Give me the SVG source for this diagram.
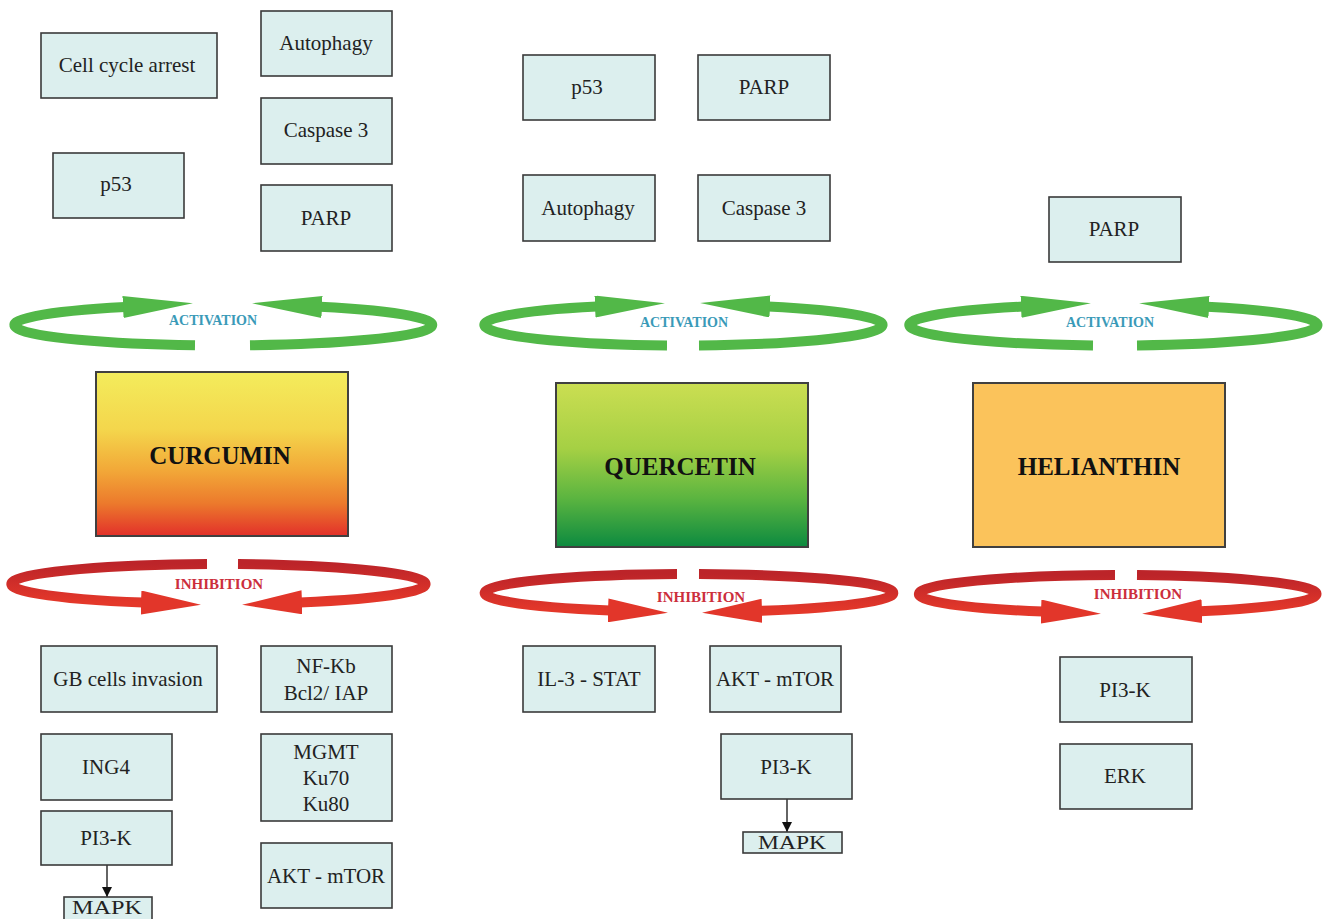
<svg xmlns="http://www.w3.org/2000/svg" width="1329" height="919" viewBox="0 0 1329 919">
<style>
.box{fill:#dcefee;stroke:#3a3a3a;stroke-width:1.6}
.t{font-family:"Liberation Serif","Times New Roman",serif;font-size:21px;fill:#222;text-anchor:middle}
.sm{font-family:"Liberation Serif","Times New Roman",serif;font-size:19px;fill:#222;text-anchor:middle}
.big{font-family:"Liberation Serif","Times New Roman",serif;font-size:25px;font-weight:bold;fill:#111;text-anchor:middle}
.main{stroke:#404040;stroke-width:2}
.act{fill:none;stroke:#52b848;stroke-width:10}
.inh{fill:none;stroke:url(#redGrad);stroke-width:10}
.actT{font-family:"Liberation Serif","Times New Roman",serif;font-size:14px;font-weight:bold;fill:#3a9ab8;text-anchor:middle}
.inhT{font-family:"Liberation Serif","Times New Roman",serif;font-size:15px;font-weight:bold;fill:#cc2e3c;text-anchor:middle}
.lnk{stroke:#111;stroke-width:1.3;fill:none}
</style>
<defs>
<linearGradient id="curG" x1="0" y1="0" x2="0" y2="1">
<stop offset="0" stop-color="#f3ec5c"/>
<stop offset="0.35" stop-color="#f4d64c"/>
<stop offset="0.6" stop-color="#f2a838"/>
<stop offset="0.8" stop-color="#ec7a2c"/>
<stop offset="1" stop-color="#e2302a"/>
</linearGradient>
<linearGradient id="queG" x1="0" y1="0" x2="0" y2="1">
<stop offset="0" stop-color="#cbde52"/>
<stop offset="0.4" stop-color="#a5d044"/>
<stop offset="0.7" stop-color="#5cb540"/>
<stop offset="1" stop-color="#0c8a40"/>
</linearGradient>
<linearGradient id="redGrad" x1="0" y1="0" x2="0" y2="1">
<stop offset="0" stop-color="#bc2429"/>
<stop offset="1" stop-color="#e4382a"/>
</linearGradient>
<marker id="actHead" markerUnits="userSpaceOnUse" markerWidth="70" markerHeight="22" viewBox="0 0 70 22" refX="2" refY="11" orient="auto">
<path d="M0,0 L70,11 L0,22 Z" fill="#52b848"/>
</marker>
<marker id="inhHead" markerUnits="userSpaceOnUse" markerWidth="60" markerHeight="24" viewBox="0 0 60 24" refX="2" refY="12" orient="auto">
<path d="M0,0 L60,12 L0,24 Z" fill="#e2362a"/>
</marker>
<marker id="blk" markerUnits="userSpaceOnUse" markerWidth="10" markerHeight="10" viewBox="0 0 10 10" refX="10" refY="5" orient="auto">
<path d="M0,0 L10,5 L0,10 Z" fill="#111"/>
</marker>
</defs>
<rect width="1329" height="919" fill="#ffffff"/>

<g id="connectors">
<g id="act-curcumin">
<path class="act" d="M195,345.3 A209,20.5 0 0 1 125,306.9" marker-end="url(#actHead)"/>
<path class="act" d="M250,345.3 A209,20.5 0 0 0 320,306.8" marker-end="url(#actHead)"/>
<text class="actT" x="213" y="325">ACTIVATION</text>
</g>
<g id="act-quercetin">
<path class="act" d="M667,345.4 A199,20.5 0 0 1 597,306.5" marker-end="url(#actHead)"/>
<path class="act" d="M699,345.4 A199,20.5 0 0 0 768,306.4" marker-end="url(#actHead)"/>
<text class="actT" x="684" y="327">ACTIVATION</text>
</g>
<g id="act-helianthin">
<path class="act" d="M1093,345.4 A203.5,20.5 0 0 1 1023,306.6" marker-end="url(#actHead)"/>
<path class="act" d="M1137,345.4 A203.5,20.5 0 0 0 1207,306.8" marker-end="url(#actHead)"/>
<text class="actT" x="1110" y="327">ACTIVATION</text>
</g>
<g id="inh-curcumin">
<path class="inh" d="M207,564 A207,20 0 0 0 143,602.6" marker-end="url(#inhHead)"/>
<path class="inh" d="M238,564.1 A207,20 0 0 1 300,602.4" marker-end="url(#inhHead)"/>
<text class="inhT" x="219" y="589">INHIBITION</text>
</g>
<g id="inh-quercetin">
<path class="inh" d="M677,574 A204,19 0 0 0 610,610.5" marker-end="url(#inhHead)"/>
<path class="inh" d="M699,574 A204,19 0 0 1 760,610.8" marker-end="url(#inhHead)"/>
<text class="inhT" x="701" y="602">INHIBITION</text>
</g>
<g id="inh-helianthin">
<path class="inh" d="M1115,575 A199,19 0 0 0 1043,611.6" marker-end="url(#inhHead)"/>
<path class="inh" d="M1137,575.1 A199,19 0 0 1 1200,611.3" marker-end="url(#inhHead)"/>
<text class="inhT" x="1138" y="599">INHIBITION</text>
</g>
<line class="lnk" x1="107" y1="865" x2="107" y2="897" marker-end="url(#blk)"/>
<line class="lnk" x1="787" y1="799" x2="787" y2="832" marker-end="url(#blk)"/>
</g>

<g id="curcumin">
<rect class="main" x="96" y="372" width="252" height="164" fill="url(#curG)"/>
<text class="big" x="220" y="464">CURCUMIN</text>
</g>
<g id="quercetin">
<rect class="main" x="556" y="383" width="252" height="164" fill="url(#queG)"/>
<text class="big" x="680" y="475">QUERCETIN</text>
</g>
<g id="helianthin">
<rect class="main" x="973" y="383" width="252" height="164" fill="#fbc35b"/>
<text class="big" x="1099" y="475">HELIANTHIN</text>
</g>

<g id="c-cellcycle"><rect class="box" x="41" y="33" width="176" height="65"/><text class="t" x="127" y="72">Cell cycle arrest</text></g>
<g id="c-autophagy"><rect class="box" x="261" y="11" width="131" height="65"/><text class="t" x="326" y="50">Autophagy</text></g>
<g id="c-caspase3"><rect class="box" x="261" y="98" width="131" height="66"/><text class="t" x="326" y="137">Caspase 3</text></g>
<g id="c-p53"><rect class="box" x="53" y="153" width="131" height="65"/><text class="t" x="116" y="191">p53</text></g>
<g id="c-parp"><rect class="box" x="261" y="185" width="131" height="66"/><text class="t" x="326" y="225">PARP</text></g>
<g id="c-gb"><rect class="box" x="41" y="646" width="176" height="66"/><text class="t" x="128" y="686">GB cells invasion</text></g>
<g id="c-nfkb"><rect class="box" x="261" y="646" width="131" height="66"/><text class="t" x="326" y="673">NF-Kb</text><text class="t" x="326" y="700">Bcl2/ IAP</text></g>
<g id="c-ing4"><rect class="box" x="41" y="734" width="131" height="66"/><text class="t" x="106" y="774">ING4</text></g>
<g id="c-mgmt"><rect class="box" x="261" y="734" width="131" height="87"/><text class="t" x="326" y="759">MGMT</text><text class="t" x="326" y="785">Ku70</text><text class="t" x="326" y="811">Ku80</text></g>
<g id="c-pi3k"><rect class="box" x="41" y="811" width="131" height="54"/><text class="t" x="106" y="845">PI3-K</text></g>
<g id="c-mapk"><rect class="box" x="64" y="897" width="88" height="24"/><text class="sm" x="107" y="914" textLength="70" lengthAdjust="spacingAndGlyphs">MAPK</text></g>
<g id="c-akt"><rect class="box" x="261" y="843" width="131" height="65"/><text class="t" x="326" y="883">AKT - mTOR</text></g>

<g id="q-p53"><rect class="box" x="523" y="55" width="132" height="65"/><text class="t" x="587" y="94">p53</text></g>
<g id="q-parp"><rect class="box" x="698" y="55" width="132" height="65"/><text class="t" x="764" y="94">PARP</text></g>
<g id="q-autophagy"><rect class="box" x="523" y="175" width="132" height="66"/><text class="t" x="588" y="215">Autophagy</text></g>
<g id="q-caspase3"><rect class="box" x="698" y="175" width="132" height="66"/><text class="t" x="764" y="215">Caspase 3</text></g>
<g id="q-il3"><rect class="box" x="523" y="646" width="132" height="66"/><text class="t" x="589" y="686">IL-3 - STAT</text></g>
<g id="q-akt"><rect class="box" x="710" y="646" width="131" height="66"/><text class="t" x="775" y="686">AKT - mTOR</text></g>
<g id="q-pi3k"><rect class="box" x="721" y="734" width="131" height="65"/><text class="t" x="786" y="774">PI3-K</text></g>
<g id="q-mapk"><rect class="box" x="743" y="832" width="99" height="21"/><text class="sm" x="792" y="849" textLength="68" lengthAdjust="spacingAndGlyphs">MAPK</text></g>

<g id="h-parp"><rect class="box" x="1049" y="197" width="132" height="65"/><text class="t" x="1114" y="236">PARP</text></g>
<g id="h-pi3k"><rect class="box" x="1060" y="657" width="132" height="65"/><text class="t" x="1125" y="697">PI3-K</text></g>
<g id="h-erk"><rect class="box" x="1060" y="744" width="132" height="65"/><text class="t" x="1125" y="783">ERK</text></g>
</svg>
